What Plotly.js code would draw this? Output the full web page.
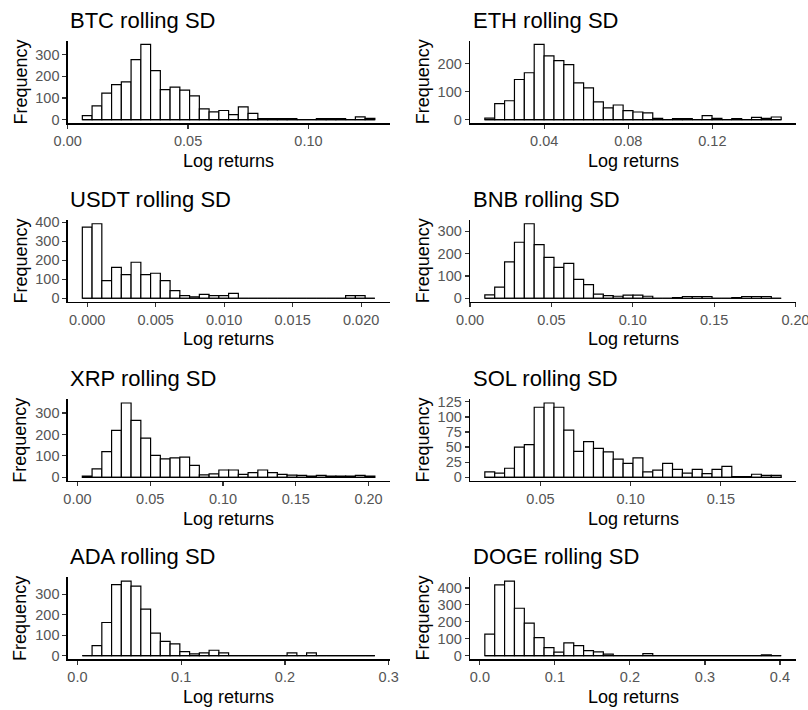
<!DOCTYPE html>
<html><head><meta charset="utf-8">
<script src="https://cdn.plot.ly/plotly-3.0.1.min.js"></script>
<style>html,body{margin:0;padding:0;background:#fff;overflow:hidden;}#chart{width:808px;height:710px;}</style>
</head><body><div id="chart"></div>
<script>
// ---- data (30 bins per histogram) ----
const coins = ['BTC', 'ETH', 'USDT', 'BNB', 'XRP', 'SOL', 'ADA', 'DOGE'];
const binStart = [0.006075, 0.01175, -0.000356, 0.00909, 0.00335, 0.019166, 0.0047, 0.00659];
const binWidth = [0.00405, 0.0047, 0.000712, 0.00607, 0.0067, 0.005476, 0.0094, 0.01317];

const btcCounts  = [18, 63, 122, 162, 175, 278, 348, 227, 139, 150, 136, 110, 49, 36, 42, 23, 59, 29, 4, 4, 4, 4, 0, 0, 4, 4, 4, 0, 12, 5];
const ethCounts  = [5, 57, 67, 143, 167, 268, 227, 210, 196, 131, 113, 63, 42, 52, 32, 27, 24, 4, 0, 3, 3, 0, 14, 4, 0, 3, 0, 8, 4, 9];
const usdtCounts = [375, 393, 93, 163, 125, 190, 125, 132, 93, 40, 14, 7, 21, 14, 14, 26, 0, 0, 0, 0, 0, 0, 0, 0, 0, 0, 0, 14, 14, 0];
const bnbCounts  = [15, 50, 163, 251, 334, 240, 183, 138, 156, 85, 61, 19, 12, 9, 14, 14, 9, 0, 0, 3, 8, 8, 8, 0, 0, 3, 8, 8, 8, 0];
const xrpCounts  = [5, 39, 120, 219, 347, 266, 183, 102, 86, 91, 94, 56, 11, 16, 34, 34, 14, 22, 34, 22, 14, 10, 9, 5, 9, 5, 5, 5, 9, 5];
const solCounts  = [9, 7, 15, 50, 54, 116, 123, 116, 78, 43, 59, 48, 42, 30, 23, 32, 9, 12, 23, 13, 7, 13, 6, 13, 18, 1, 1, 5, 3, 3];
const adaCounts  = [0, 49, 162, 347, 365, 340, 227, 110, 70, 57, 19, 8, 13, 26, 13, 0, 0, 0, 0, 0, 0, 13, 0, 13, 0, 0, 0, 0, 0, 0];
const dogeCounts = [127, 418, 441, 280, 192, 106, 47, 20, 75, 59, 29, 22, 8, 0, 0, 0, 12, 0, 0, 0, 0, 0, 0, 0, 0, 0, 0, 0, 4, 0];
const allCounts = [btcCounts, ethCounts, usdtCounts, bnbCounts, xrpCounts, solCounts, adaCounts, dogeCounts];

const xTickStep = [0.05, 0.04, 0.005, 0.05, 0.05, 0.05, 0.1, 0.1];
const xTickFormat = ['.2f', '.2f', '.3f', '.2f', '.2f', '.2f', '.1f', '.1f'];
const yTickStep = [100, 100, 100, 100, 100, 25, 100, 100];

// ---- layout geometry (pixels) ----
const W = 808, H = 710;
const colL = [67.7, 470], colR = [389.5, 796];
const rowT = [40.7, 220, 399.3, 577.3], rowB = [123.3, 302, 481, 659.3];
const px2x = p => p / W, px2y = p => 1 - p / H;

const FONT = 'Liberation Sans, Arial, Helvetica, sans-serif';
const traces = [];
const layout = {
  width: W, height: H, margin: {l: 0, r: 0, t: 0, b: 0},
  paper_bgcolor: '#fff', plot_bgcolor: '#fff', showlegend: false,
  hovermode: false, bargap: 0, annotations: [],
  font: {family: FONT}
};

coins.forEach((coin, i) => {
  const col = i % 2, row = Math.floor(i / 2);
  const n = i + 1, sfx = n === 1 ? '' : String(n);
  const counts = allCounts[i];
  const w = binWidth[i], x0 = binStart[i];
  const centers = counts.map((_, k) => x0 + (k + 0.5) * w);
  const x1 = x0 + counts.length * w;
  const R = x1 - x0;
  const ymax = Math.max(...counts);

  traces.push({
    type: 'scatter', mode: 'lines', x: [x0, x1], y: [0, 0],
    xaxis: 'x' + sfx, yaxis: 'y' + sfx,
    line: {color: '#000', width: 1.2}, hoverinfo: 'skip'
  });
  traces.push({
    type: 'bar', x: centers, y: counts, width: w,
    xaxis: 'x' + sfx, yaxis: 'y' + sfx,
    marker: {color: '#fff', line: {color: '#000', width: 1.2}},
    hoverinfo: 'skip'
  });

  const tickFont = {family: FONT, size: 14.5, color: '#555555'};
  layout['xaxis' + sfx] = {
    domain: [px2x(colL[col]), px2x(colR[col])],
    anchor: 'y' + sfx,
    range: [x0 - 0.05 * R - 1e-9, x1 + 0.05 * R + 1e-9],
    showgrid: false, zeroline: false, showline: true, linecolor: '#000', linewidth: 1.3,
    ticks: 'outside', ticklen: 4, tickwidth: 1.2, tickcolor: '#333',
    tickmode: 'linear', tick0: 0, dtick: xTickStep[i], tickformat: xTickFormat[i],
    tickfont: tickFont, ticklabeloverflow: 'allow', fixedrange: true
  };
  layout['yaxis' + sfx] = {
    domain: [px2y(rowB[row]), px2y(rowT[row])],
    anchor: 'x' + sfx,
    range: [-0.05 * ymax, 1.05 * ymax],
    showgrid: false, zeroline: false, showline: true, linecolor: '#000', linewidth: 1.3,
    ticks: 'outside', ticklen: 4, tickwidth: 1.2, tickcolor: '#333',
    tickmode: 'linear', tick0: 0, dtick: yTickStep[i],
    tickfont: tickFont, fixedrange: true
  };

  // panel title
  layout.annotations.push({
    xref: 'paper', yref: 'paper', x: px2x(colL[col] + 0.5), y: px2y(rowT[row] - 20.5),
    xanchor: 'left', yanchor: 'middle', showarrow: false,
    text: coin + ' rolling SD', font: {family: FONT, size: 22, color: '#000'}
  });
  // y title
  layout.annotations.push({
    xref: 'paper', yref: 'paper', x: px2x(col === 0 ? 20.6 : 423.3), y: px2y((rowT[row] + rowB[row]) / 2),
    xanchor: 'center', yanchor: 'middle', showarrow: false, textangle: -90,
    text: 'Frequency', font: {family: FONT, size: 18, color: '#000'}
  });
  // x title
  layout.annotations.push({
    xref: 'paper', yref: 'paper', x: px2x((colL[col] + colR[col]) / 2), y: px2y(rowB[row] + 37.5),
    xanchor: 'center', yanchor: 'middle', showarrow: false,
    text: 'Log returns', font: {family: FONT, size: 18, color: '#000'}
  });
});

Plotly.newPlot('chart', traces, layout, {staticPlot: true, displayModeBar: false});
</script>
</body></html>
